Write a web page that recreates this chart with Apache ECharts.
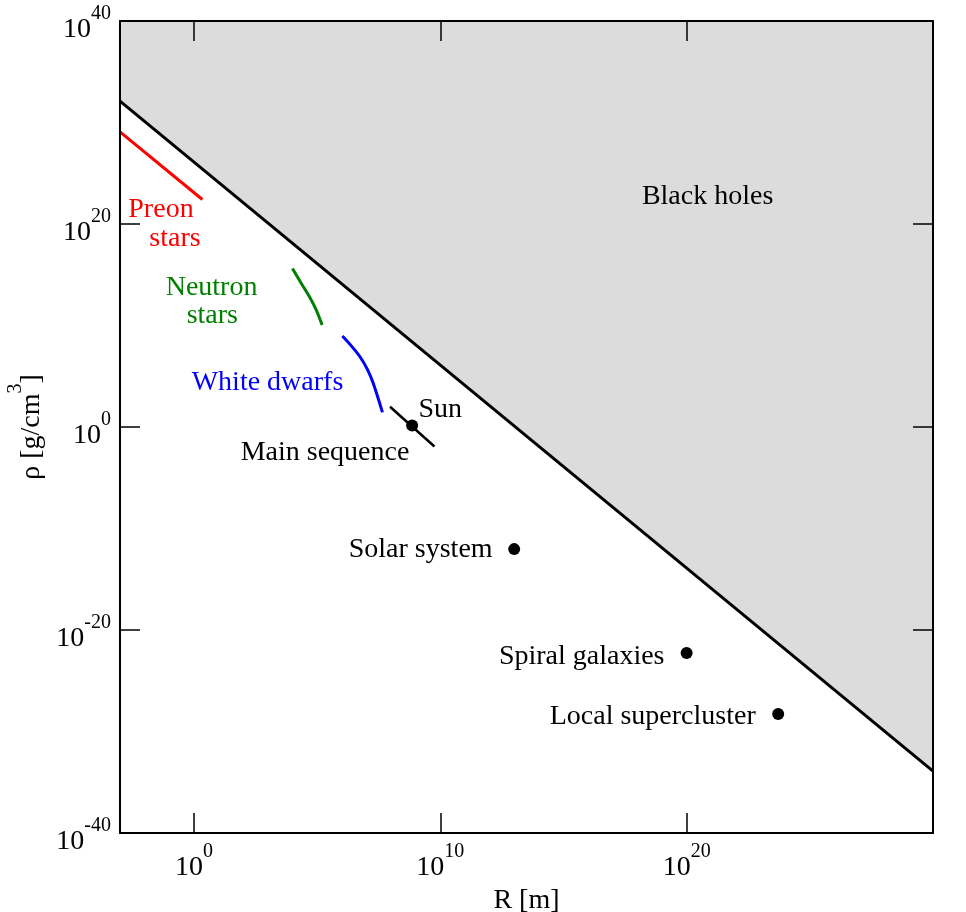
<!DOCTYPE html>
<html><head><meta charset="utf-8">
<script src="https://cdn.jsdelivr.net/npm/echarts@6/dist/echarts.min.js"></script>
<style>html,body{margin:0;padding:0;background:#fff}#chart{width:966px;height:912px}</style>
</head><body><div id="chart"></div>
<script>
// ---- data ----
const xTicks = [1, 1e10, 1e20, 1e30];
const yTicks = [1e-40, 1e-20, 1, 1e20, 1e40];

const blackHoleR = [1e-3, 1e30];
const blackHoleRho = [1.26e32, 1.26e-34];

const preonR = [1e-3, 2.2];
const preonRho = [1.2e29, 2.6e22];

const neutronR = [1.0e4, 2.3e4, 4.9e4, 9.3e4, 1.6e5];
const neutronRho = [4.2e15, 1.4e14, 6.8e12, 3.3e11, 1.1e10];

const whiteDwarfR = [1.06e6, 2.5e6, 5.5e6, 1.1e7, 1.9e7, 4.5e7];
const whiteDwarfRho = [9.1e8, 9.3e7, 8.3e6, 4.8e5, 2.0e4, 27.5];

const mainSeqR = [9.1e7, 5.8e9];
const mainSeqRho = [1.0e2, 1.2e-2];

const objectNames = ['Sun', 'Solar system', 'Spiral galaxies', 'Local supercluster'];
const objectR = [7.2e8, 1.0e13, 1.0e20, 5.2e23];
const objectRho = [1.4, 9.3e-13, 5.5e-23, 5.4e-29];

const labelTexts = ['Black holes', 'Preon', 'stars', 'Neutron', 'stars', 'White dwarfs', 'Sun', 'Main sequence', 'Solar system', 'Spiral galaxies', 'Local supercluster'];
const labelGroups = ['black', 'preon', 'preon', 'neutron', 'neutron', 'dwarf', 'black', 'black', 'black', 'black', 'black'];
const labelR = [7.1e20, 4.6e-2, 0.17, 5.2, 5.6, 9.7e2, 1.0e10, 2.1e5, 1.6e9, 5.5e15, 4.2e18];
const labelRho = [5.2e22, 2.6e21, 3.5e18, 5.4e13, 8.5e10, 2.4e4, 52, 3.1e-3, 8.8e-13, 2.5e-23, 2.7e-29];

// ---- styling ----
const FONT = '"Liberation Serif", "Times New Roman", serif';
const groupColor = { black: '#000000', preon: '#ff0000', neutron: '#008000', dwarf: '#0000ff' };
const zip = (a, b) => a.map((v, i) => [v, b[i]]);
const powFmt = v => '{b|10}{s|' + Math.round(Math.log10(v)) + '}';
const supRich = {
  b: { fontSize: 28, lineHeight: 40, verticalAlign: 'bottom', fontFamily: FONT, color: '#000' },
  s: { fontSize: 20, lineHeight: 14, verticalAlign: 'top', fontFamily: FONT, color: '#000' }
};
const axisLine = { show: true, onZero: false, lineStyle: { color: '#000', width: 2 } };

function xAx(pos, withLabels) {
  return {
    type: 'log', logBase: 10, min: 1e-3, max: 1e30, position: pos, z: 10,
    axisLine: axisLine,
    axisTick: { show: true, inside: true, length: 20, customValues: xTicks, lineStyle: { color: '#000', width: 1.5 } },
    axisLabel: withLabels ? { show: true, customValues: xTicks, formatter: powFmt, rich: supRich, margin: 9 } : { show: false },
    minorTick: { show: false }, splitLine: { show: false },
    name: withLabels ? 'R [m]' : '', nameLocation: 'middle', nameGap: 46,
    nameTextStyle: { fontSize: 28, fontFamily: FONT, color: '#000' }
  };
}
function yAx(pos, withLabels) {
  return {
    type: 'log', logBase: 10, min: 1e-40, max: 1e40, position: pos, z: 10,
    axisLine: axisLine,
    axisTick: { show: true, inside: true, length: 20, customValues: yTicks, lineStyle: { color: '#000', width: 1.5 } },
    axisLabel: withLabels ? { show: true, customValues: yTicks, formatter: powFmt, rich: supRich, margin: 9, padding: [6, 0, 0, 0] } : { show: false },
    minorTick: { show: false }, splitLine: { show: false },
    name: withLabels ? '{b|ρ [g/cm}{s|3}{b|]}' : '', nameLocation: 'middle', nameGap: 68, nameRotate: 90,
    nameTextStyle: { rich: supRich, fontSize: 28, fontFamily: FONT, color: '#000' }
  };
}

const option = {
  animation: false,
  backgroundColor: '#fff',
  textStyle: { fontFamily: FONT },
  grid: { left: 120, right: 33, top: 21, bottom: 79, containLabel: false, outerBoundsMode: 'none' },
  xAxis: [xAx('bottom', true), xAx('top', false)],
  yAxis: [yAx('left', true), yAx('right', false)],
  series: [
    { type: 'line', name: 'Black holes', silent: true, symbol: 'none', data: zip(blackHoleR, blackHoleRho),
      lineStyle: { color: '#000', width: 3 }, areaStyle: { origin: 'end', color: '#dcdcdc', opacity: 1 }, z: 1 },
    { type: 'line', name: 'Preon stars', silent: true, symbol: 'none', data: zip(preonR, preonRho),
      lineStyle: { color: groupColor.preon, width: 3 }, z: 3 },
    { type: 'line', name: 'Neutron stars', silent: true, symbol: 'none', smooth: 0.3, data: zip(neutronR, neutronRho),
      lineStyle: { color: groupColor.neutron, width: 3 }, z: 3 },
    { type: 'line', name: 'White dwarfs', silent: true, symbol: 'none', smooth: 0.3, data: zip(whiteDwarfR, whiteDwarfRho),
      lineStyle: { color: groupColor.dwarf, width: 3 }, z: 3 },
    { type: 'line', name: 'Main sequence', silent: true, symbol: 'none', data: zip(mainSeqR, mainSeqRho),
      lineStyle: { color: '#000', width: 2.5 }, z: 3 },
    { type: 'scatter', name: 'Objects', silent: true, symbol: 'circle', symbolSize: 12,
      itemStyle: { color: '#000', opacity: 1 },
      data: objectNames.map((n, i) => ({ name: n, value: [objectR[i], objectRho[i]] })), z: 4 },
    { type: 'scatter', name: 'Labels', silent: true, symbolSize: 1, itemStyle: { color: 'rgba(0,0,0,0)', opacity: 1 },
      data: labelTexts.map((t, i) => ({
        name: t, value: [labelR[i], labelRho[i]],
        label: { color: groupColor[labelGroups[i]] }
      })),
      label: { show: true, position: 'inside', formatter: '{b}', fontSize: 28, fontFamily: FONT,
               align: 'center', verticalAlign: 'middle', opacity: 1 }, z: 5 }
  ]
};
const chart = echarts.init(document.getElementById('chart'), null, { renderer: 'canvas' });
chart.setOption(option);
</script></body></html>
